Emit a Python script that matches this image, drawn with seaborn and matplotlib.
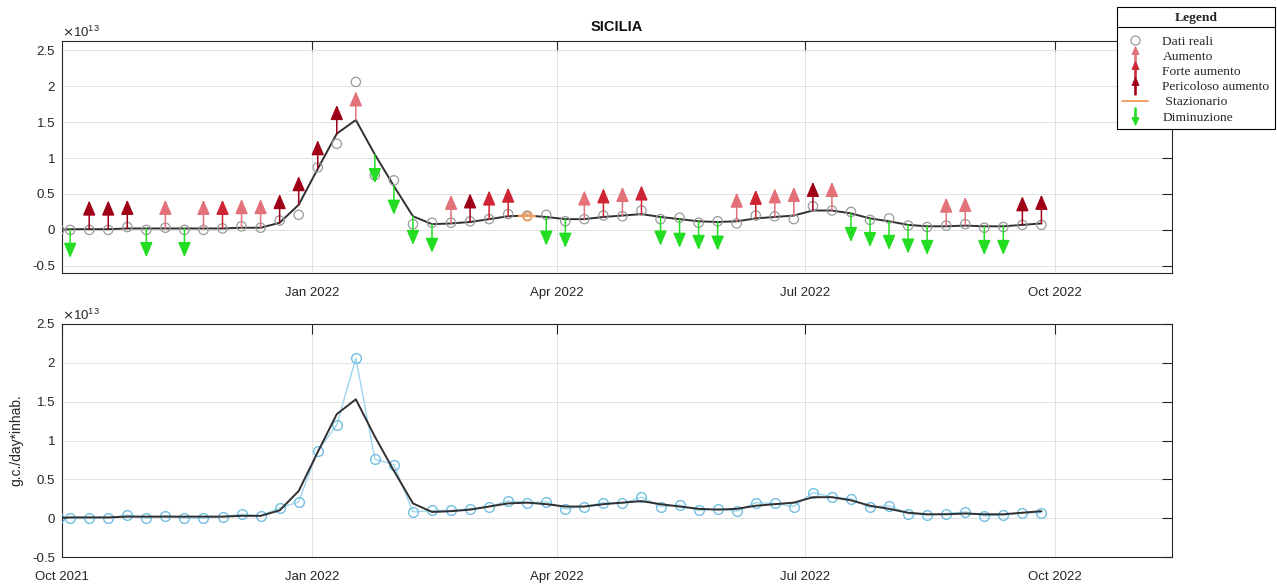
import matplotlib
matplotlib.use("Agg")
import numpy as np
import pandas as pd
import matplotlib.pyplot as plt
import matplotlib.dates as mdates
from matplotlib.lines import Line2D
from matplotlib.path import Path
from matplotlib.ticker import ScalarFormatter, FixedLocator
import seaborn as sns

# ---------------------------------------------------------------- data
SCALE = 1e13  # values below are in units of 1e13 g.c./day*inhab.

sample_dates = [
    "2021-09-30", "2021-10-04", "2021-10-11", "2021-10-18", "2021-10-25",
    "2021-11-01", "2021-11-08", "2021-11-15", "2021-11-22", "2021-11-29",
    "2021-12-06", "2021-12-13", "2021-12-20", "2021-12-27",
    "2022-01-03", "2022-01-10", "2022-01-17", "2022-01-24", "2022-01-31",
    "2022-02-07", "2022-02-14", "2022-02-21", "2022-02-28",
    "2022-03-07", "2022-03-14", "2022-03-21", "2022-03-28",
    "2022-04-04", "2022-04-11", "2022-04-18", "2022-04-25",
    "2022-05-02", "2022-05-09", "2022-05-16", "2022-05-23", "2022-05-30",
    "2022-06-06", "2022-06-13", "2022-06-20", "2022-06-27",
    "2022-07-04", "2022-07-11", "2022-07-18", "2022-07-25",
    "2022-08-01", "2022-08-08", "2022-08-15", "2022-08-22", "2022-08-29",
    "2022-09-05", "2022-09-12", "2022-09-19", "2022-09-26",
]

observed = [
    0.00, 0.00, 0.00, 0.00, 0.04,
    0.00, 0.03, 0.00, 0.00, 0.02,
    0.05, 0.03, 0.13, 0.21,
    0.87, 1.20, 2.06, 0.76, 0.69,
    0.08, 0.10, 0.10, 0.12,
    0.15, 0.22, 0.20, 0.21,
    0.12, 0.15, 0.20, 0.19,
    0.27, 0.15, 0.17, 0.10, 0.12,
    0.09, 0.20, 0.19, 0.15,
    0.33, 0.27, 0.25, 0.14,
    0.16, 0.06, 0.04, 0.06, 0.08,
    0.03, 0.04, 0.07, 0.07,
]

trend = [
    0.00, 0.01, 0.01, 0.01, 0.02,
    0.02, 0.02, 0.02, 0.02, 0.02,
    0.03, 0.03, 0.10, 0.35,
    0.85, 1.34, 1.53, 1.05, 0.61,
    0.19, 0.08, 0.09, 0.11,
    0.15, 0.19, 0.20, 0.18,
    0.15, 0.15, 0.18, 0.20,
    0.22, 0.18, 0.15, 0.12, 0.11,
    0.12, 0.16, 0.18, 0.20,
    0.27, 0.27, 0.23, 0.16,
    0.12, 0.07, 0.05, 0.05, 0.06,
    0.05, 0.05, 0.07, 0.09,
]

# A = Aumento, F = Forte aumento, P = Pericoloso aumento,
# S = Stazionario, D = Diminuzione, "" = no signal
signal = [
    "", "D", "P", "P", "P",
    "D", "A", "D", "A", "F",
    "A", "A", "P", "P",
    "P", "P", "A", "D", "D",
    "D", "D", "A", "P",
    "F", "F", "S", "D",
    "D", "A", "F", "A",
    "F", "D", "D", "D", "D",
    "A", "F", "A", "A",
    "P", "A", "D", "D",
    "D", "D", "D", "A", "A",
    "D", "D", "P", "P",
]

region = "SICILIA"
legend_title = "Legend"
signal_labels = {
    "A": "Aumento",
    "F": "Forte aumento",
    "P": "Pericoloso aumento",
    "S": " Stazionario",
    "D": "Diminuzione",
}
observed_label = "Dati reali"
y_label = "g.c./day*inhab."
top_xticks = ["2022-01-01", "2022-04-01", "2022-07-01", "2022-10-01"]
bottom_xticks = ["2021-10-01"] + top_xticks
y_ticks = [-0.5, 0, 0.5, 1, 1.5, 2, 2.5]
x_range = ["2021-10-01", "2022-11-13"]

# ---------------------------------------------------------------- style
signal_colors = {
    "A": "#e2717a",
    "F": "#cf2433",
    "P": "#9f0018",
    "S": "#f09a5c",
    "D": "#22dd22",
}
ARROW_LEN = 0.4          # arrow length, in units of 1e13
TREND_COLOR = "#303030"
CIRCLE_GRAY = "#9a9a9a"
LIGHT_BLUE_LINE = "#9ed6ee"
LIGHT_BLUE_EDGE = "#72bfe2"
INK = "#262626"

sns.set_theme(style="white")
plt.rcParams["font.family"] = ["Liberation Sans", "DejaVu Sans"]
plt.rcParams["axes.unicode_minus"] = False

df = pd.DataFrame({
    "date": pd.to_datetime(sample_dates),
    "observed": np.asarray(observed) * SCALE,
    "trend": np.asarray(trend) * SCALE,
    "signal": signal,
})


class TrimmedFormatter(ScalarFormatter):
    """Scientific offset on top, compact tick labels (0, 0.5, 1 ...)."""

    def __call__(self, x, pos=None):
        v = x / 10 ** self.orderOfMagnitude
        return f"{v:g}"


def style_axes(ax, ylim, xticks):
    ax.set_xlim(pd.Timestamp(x_range[0]), pd.Timestamp(x_range[1]))
    ax.set_ylim(ylim[0] * SCALE, ylim[1] * SCALE)
    ax.xaxis.set_major_locator(FixedLocator(mdates.date2num(pd.to_datetime(xticks))))
    ax.xaxis.set_major_formatter(mdates.DateFormatter("%b %Y"))
    ax.yaxis.set_major_locator(FixedLocator(np.asarray(y_ticks) * SCALE))
    ax.yaxis.set_major_formatter(TrimmedFormatter(useMathText=True))
    ax.yaxis.get_offset_text().set_fontsize(9.5)
    ax.yaxis.get_offset_text().set_color(INK)
    ax.grid(True, color="#e2e2e2", lw=0.7)
    ax.set_axisbelow(True)
    ax.tick_params(axis="both", direction="in", length=7.5, width=0.8,
                   top=True, right=True, labelsize=9.5, colors=INK)
    # date labels share a common baseline
    ax.tick_params(axis="x", pad=16.5)
    plt.setp(ax.get_xticklabels(), va="baseline")
    ax.tick_params(axis="y", pad=5)
    for sp in ax.spines.values():
        sp.set_visible(True)
        sp.set_color(INK)
        sp.set_linewidth(0.8)
    ax.set_xlabel("")
    ax.set_ylabel("")


W, H = 1277, 585
fig = plt.figure(figsize=(W / 100, H / 100), dpi=100)
fig.patch.set_facecolor("white")
ax1 = fig.add_axes([62 / W, 1 - 273 / H, 1110 / W, 232 / H])
ax2 = fig.add_axes([62 / W, 1 - 557 / H, 1110 / W, 233 / H])

# ---------------------------------------------------------------- top panel
sns.lineplot(data=df, x="date", y="trend", ax=ax1, color=TREND_COLOR,
             lw=1.4, zorder=3)
sns.scatterplot(data=df, x="date", y="observed", ax=ax1, marker="o", s=45,
                facecolor="none", edgecolor=CIRCLE_GRAY, linewidth=0.9,
                zorder=4)

for _, row in df.iterrows():
    code = row["signal"]
    if not code:
        continue
    xnum = mdates.date2num(row["date"])
    base = row["trend"]
    col = signal_colors[code]
    if code == "S":
        half = pd.Timedelta(days=3)
        ax1.plot([row["date"] - half, row["date"] + half], [base, base],
                 color=col, lw=1.6, zorder=5)
        ax1.plot([row["date"]], [base], ls="none", marker="o", ms=6,
                 mfc="none", mec=col, mew=1.2, zorder=5)
        continue
    direction = 1 if code in ("A", "F", "P") else -1
    tip = base + direction * ARROW_LEN * SCALE
    ax1.annotate(
        "", xy=(xnum, tip), xytext=(xnum, base), xycoords="data",
        arrowprops=dict(arrowstyle="-|>,head_length=0.75,head_width=0.32",
                        color=col, lw=1.1, shrinkA=0, shrinkB=0),
        zorder=5,
    )

style_axes(ax1, (-0.6, 2.63), top_xticks)
ax1.set_title(region, fontweight="bold", fontsize=10.5, pad=7, color="#111111")

# ---------------------------------------------------------------- bottom panel
sns.lineplot(data=df, x="date", y="observed", ax=ax2, color=LIGHT_BLUE_LINE,
             lw=1.0, marker="o", markersize=7, markerfacecolor="none",
             markeredgecolor=LIGHT_BLUE_EDGE, markeredgewidth=1.0, zorder=3)
sns.lineplot(data=df, x="date", y="trend", ax=ax2, color=TREND_COLOR,
             lw=1.4, zorder=4)
style_axes(ax2, (-0.5, 2.5), bottom_xticks)
ax2.set_ylabel(y_label, fontsize=10, color=INK, labelpad=6)

# ---------------------------------------------------------------- legend
def arrow_path(up=True):
    verts = [(-0.07, -1.0), (0.07, -1.0), (0.07, 0.15), (0.38, 0.15),
             (0.0, 1.0), (-0.38, 0.15), (-0.07, 0.15), (-0.07, -1.0)]
    if not up:
        verts = [(x, -y) for x, y in verts]
    return Path(verts, closed=True)


handles = [
    Line2D([], [], ls="none", marker="o", mfc="none", mec=CIRCLE_GRAY,
           ms=6.5, mew=0.9),
    Line2D([], [], ls="none", marker=arrow_path(True), color=signal_colors["A"], ms=12),
    Line2D([], [], ls="none", marker=arrow_path(True), color=signal_colors["F"], ms=12),
    Line2D([], [], ls="none", marker=arrow_path(True), color=signal_colors["P"], ms=12),
    Line2D([], [], color=signal_colors["S"], lw=1.3),
    Line2D([], [], ls="none", marker=arrow_path(False), color=signal_colors["D"], ms=12),
]
labels = [observed_label] + [signal_labels[k] for k in ("A", "F", "P", "S", "D")]

leg = fig.legend(
    handles, labels, loc="upper right",
    bbox_to_anchor=(1275 / W, 1 - 7 / H), bbox_transform=fig.transFigure,
    borderaxespad=0,
    title=legend_title,
    prop={"family": "Liberation Serif", "size": 9.7},
    title_fontproperties={"family": "Liberation Serif", "weight": "bold", "size": 9.7},
    frameon=True, fancybox=False, framealpha=1, edgecolor="black",
    handlelength=1.9, handletextpad=1.1, labelspacing=0.2, borderpad=0.4,
)
leg.get_frame().set_linewidth(0.8)
# a little extra room between the title row and the entries
leg._legend_box.sep = 8

fig.canvas.draw()
renderer = fig.canvas.get_renderer()
fb = leg.get_frame().get_window_extent(renderer)
tb = leg.get_title().get_window_extent(renderer)
inv = fig.transFigure.inverted()
ysep = tb.y0 - 3
p0 = inv.transform((fb.x0, ysep))
p1 = inv.transform((fb.x1, ysep))
fig.add_artist(Line2D([p0[0], p1[0]], [p0[1], p1[1]], transform=fig.transFigure,
                      color="black", lw=0.8, zorder=10))

fig.savefig("out.png", dpi=100, facecolor="white")
